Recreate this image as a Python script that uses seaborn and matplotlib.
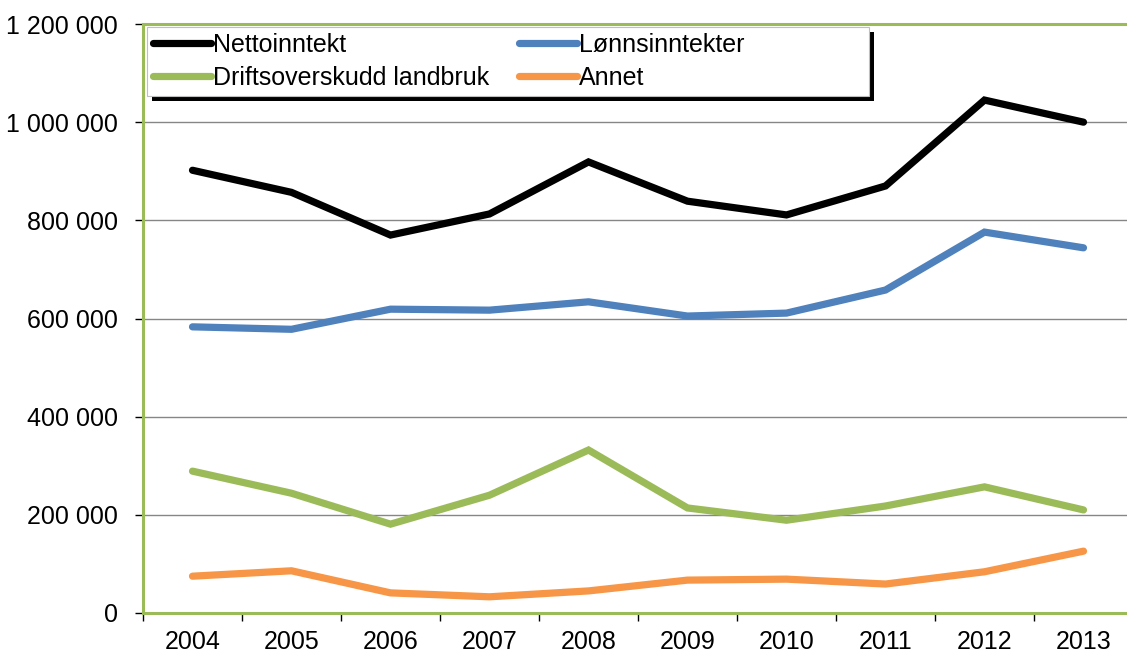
import pandas as pd
import matplotlib
matplotlib.use("Agg")
import matplotlib.pyplot as plt
import seaborn as sns
from matplotlib.ticker import FuncFormatter, FixedLocator
from matplotlib.patches import Rectangle

# Values
years = [2004, 2005, 2006, 2007, 2008, 2009, 2010, 2011, 2012, 2013]
nettoinntekt = [902000, 857000, 770000, 813000, 919000, 839000, 811000, 870000, 1045000, 1000000]
lonnsinntekter = [583000, 578000, 619000, 617000, 634000, 605000, 611000, 658000, 776000, 744000]
driftsoverskudd = [289000, 244000, 181000, 240000, 332000, 214000, 189000, 218000, 257000, 210000]
annet = [75000, 86000, 41000, 33000, 45000, 67000, 69000, 59000, 84000, 126000]

series_names = ["Nettoinntekt", "Lønnsinntekter", "Driftsoverskudd landbruk", "Annet"]
colors = ["#000000", "#4F81BD", "#9BBB59", "#F79646"]

df = pd.DataFrame({
    "År": years * 4,
    "Verdi": nettoinntekt + lonnsinntekter + driftsoverskudd + annet,
    "Serie": [s for s in series_names for _ in years],
})

sns.set_style("white")
plt.rcParams["font.family"] = ["Liberation Sans", "DejaVu Sans"]
plt.rcParams["text.color"] = "black"
plt.rcParams["xtick.color"] = "black"
plt.rcParams["ytick.color"] = "black"

fig = plt.figure(figsize=(11.27, 6.52), dpi=100)
ax = fig.add_axes([143 / 1127, 39 / 652, 990 / 1127, 589 / 652])

sns.lineplot(data=df, x="År", y="Verdi", hue="Serie", hue_order=series_names,
             palette=colors, linewidth=5.2, ax=ax, legend=False,
             solid_capstyle="round", solid_joinstyle="miter")

ax.set_xlim(2003.5, 2013.5)
ax.set_ylim(0, 1200000)
ax.set_yticks(range(0, 1200001, 200000))
ax.yaxis.set_major_formatter(FuncFormatter(lambda v, p: f"{int(v):,}".replace(",", " ")))
ax.set_xticks(years)
ax.xaxis.set_minor_locator(FixedLocator([y - 0.5 for y in years] + [2013.5]))
ax.tick_params(axis="x", which="major", bottom=True, length=0, labelsize=18, pad=12,
               labelcolor="black")
ax.tick_params(axis="x", which="minor", bottom=True, length=6, width=1, color="black",
               direction="out")
ax.tick_params(axis="y", left=True, length=6, width=1, color="black", direction="out",
               labelsize=18, pad=12, labelcolor="black")
ax.set_xlabel("")
ax.set_ylabel("")

ax.grid(axis="y", color="#868686", linewidth=1)
ax.set_axisbelow(True)

for side in ["left", "top", "bottom"]:
    ax.spines[side].set_color("#9BBB59")
    ax.spines[side].set_linewidth(2.2)
ax.spines["right"].set_visible(False)

# legend box with black drop shadow
bx0, by0, bw, bh = 4 / 990, 1 - 72 / 589, 722 / 990, 69 / 589
ax.add_patch(Rectangle((bx0 + 5 / 990, by0 - 5 / 589), bw, bh, transform=ax.transAxes,
                       facecolor="black", edgecolor="none", zorder=5, clip_on=False))
ax.add_patch(Rectangle((bx0, by0), bw, bh, transform=ax.transAxes,
                       facecolor="white", edgecolor="#BFBFBF", linewidth=0.8, zorder=6, clip_on=False))

# column-wise fill: row 1 = Nettoinntekt, Lønnsinntekter
order = [0, 2, 1, 3]
handles = [plt.Line2D([], [], color=colors[i], linewidth=5.2, solid_capstyle="round") for i in order]
labels = [series_names[i] for i in order]
leg = ax.legend(handles, labels, ncol=2, loc="upper left",
                bbox_to_anchor=(10 / 990, 1 - 9 / 589), frameon=False,
                fontsize=18, handlelength=2.3, handletextpad=0.1,
                columnspacing=1.2, labelspacing=0.35, borderpad=0, borderaxespad=0)
leg.set_zorder(7)

fig.savefig("out.png", dpi=100)
